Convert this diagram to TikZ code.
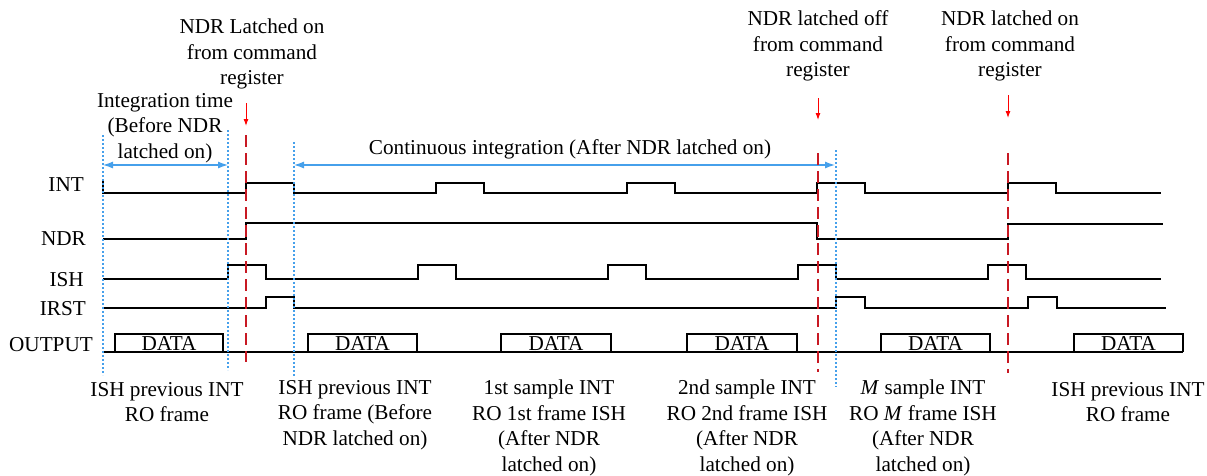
\documentclass[tikz,border=0pt]{standalone}
\usepackage{fontspec}
\setmainfont{Liberation Serif}
\usetikzlibrary{arrows.meta}
\definecolor{markblue}{RGB}{70,160,235}
\definecolor{markred}{RGB}{200,25,35}
\begin{document}
\begin{tikzpicture}[x=1pt, y=-1pt,
    every node/.style={font=\fontsize{21.2}{25.5}\selectfont, align=center, inner sep=0pt},
    wave/.style={line width=1.3pt, black},
    sig/.style={anchor=east},
    frameline/.style={markblue, line width=1.2pt, dash pattern=on 2pt off 2pt},
    latchline/.style={markred, line width=1.4pt, dash pattern=on 12pt off 6pt},
    latcharrow/.style={red, line width=1pt, -{Latex[length=7pt, width=5pt]}},
    spanarrow/.style={markblue, line width=1.2pt, {Latex[length=10pt, width=7pt]}-{Latex[length=10pt, width=7pt]}}]

    \useasboundingbox (0,0) rectangle (1207,475);

    % Signal names
    \node[sig] (int)  at (84,185)  {INT};
    \node[sig] (ndr)  at (86,239)  {NDR};
    \node[sig] (ish)  at (84,280)  {ISH};
    \node[sig] (irst) at (86,309)  {IRST};
    \node[sig] (out)  at (93,345)  {OUTPUT};

    % Waveforms
    \draw[wave] (103,181) -- (103,193) -- (246,193) -- (246,183) -- (294,183) -- (294,193)
        -- (436,193) -- (436,183) -- (484,183) -- (484,193) -- (627,193) -- (627,183)
        -- (675,183) -- (675,193) -- (817,193) -- (817,183) -- (865,183) -- (865,193)
        -- (1008,193) -- (1008,183) -- (1056,183) -- (1056,193) -- (1161,193);
    \draw[wave] (103,239) -- (246,239) -- (246,223) -- (817,223) -- (817,239)
        -- (1008,239) -- (1008,224) -- (1163,224);
    \draw[wave] (103,279) -- (228,279) -- (228,265) -- (266,265) -- (266,279)
        -- (418,279) -- (418,265) -- (456,265) -- (456,279) -- (608,279) -- (608,265)
        -- (646,265) -- (646,279) -- (798,279) -- (798,265) -- (836,265) -- (836,279)
        -- (988,279) -- (988,265) -- (1026,265) -- (1026,279) -- (1161,279);
    \draw[wave] (103,308) -- (266,308) -- (266,297) -- (294,297) -- (294,308)
        -- (836,308) -- (836,297) -- (865,297) -- (865,308) -- (1028,308) -- (1028,297)
        -- (1057,297) -- (1057,308) -- (1166,308);
    \draw[wave] (103,352) -- (1183,352);
    \foreach \xa/\xb [count=\i] in {115/223, 308/417, 501/611, 687/797, 881/990, 1074/1183} {
        \draw[wave] (\xa,352) -- (\xa,334) -- (\xb,334) -- (\xb,352);
        \node (data\i) at ({(\xa+\xb)/2},344) {DATA};
    }

    % Frame marks
    \foreach \x/\ya/\yb [count=\i] in {103/135/375, 228/130/370, 294/142/377, 836/150/387} {
        \coordinate (ft\i) at (\x,\ya);
        \coordinate (fb\i) at (\x,\yb);
        \draw[frameline] (ft\i) -- (fb\i);
    }
    \coordinate (sa) at (103,165);
    \coordinate (sb) at (228,165);
    \coordinate (sc) at (294,165);
    \coordinate (sd) at (835,165);
    \draw[spanarrow] (sa) -- (sb);
    \draw[spanarrow] (sc) -- (sd);

    % Latch marks
    \foreach \x/\ya/\yb/\ta/\tb [count=\i] in {246/135/362/103/126, 818/153/372/98/120, 1008/153/373/95/118} {
        \coordinate (lt\i) at (\x,\ya);
        \coordinate (lb\i) at (\x,\yb);
        \coordinate (at\i) at (\x,\ta);
        \coordinate (ab\i) at (\x,\tb);
        \draw[latchline] (lt\i) -- (lb\i);
        \draw[latcharrow] (at\i) -- (ab\i);
    }

    % Top labels
    \node (latchA) at (252,54)  {NDR Latched on\\from command\\register};
    \node (inttime) at (165,128) {Integration time\\(Before NDR\\latched on)};
    \node (contint) at (570,149) {Continuous integration (After NDR latched on)};
    \node (latchB) at (818,46)  {NDR latched off\\from command\\register};
    \node (latchC) at (1010,46) {NDR latched on\\from command\\register};

    % Bottom labels
    \node (roA) at (167,402)  {ISH previous INT\\RO frame};
    \node (roB) at (355,415)  {ISH previous INT\\RO frame (Before\\NDR latched on)};
    \node (roC) at (549,428)  {1st sample INT\\RO 1st frame ISH\\(After NDR\\latched on)};
    \node (roD) at (747,428)  {2nd sample INT\\RO 2nd frame ISH\\(After NDR\\latched on)};
    \node (roE) at (923,428)  {\textit{M} sample INT\\RO \textit{M} frame ISH\\(After NDR\\latched on)};
    \node (roF) at (1128,402) {ISH previous INT\\RO frame};

\end{tikzpicture}
\end{document}
